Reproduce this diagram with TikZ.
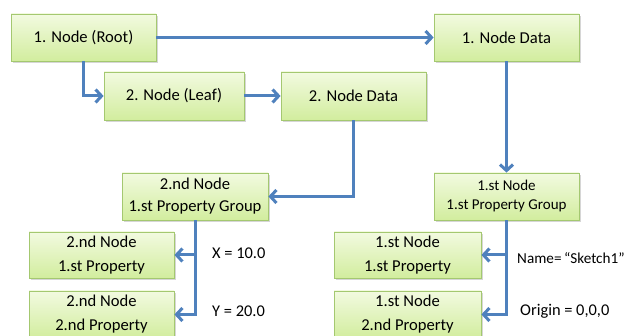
\documentclass[tikz,border=0pt]{standalone}
\usepackage{fontspec}
\setmainfont{Carlito}
\usetikzlibrary{arrows.meta,shadows}
\definecolor{boxtop}{RGB}{242,250,224}
\definecolor{boxbot}{RGB}{210,237,158}
\definecolor{boxline}{RGB}{164,200,112}
\definecolor{linkblue}{RGB}{79,129,189}
\tikzset{
  box/.style={draw=boxline, line width=0.8pt, top color=boxtop, bottom color=boxbot,
    minimum width=145pt, minimum height=47pt, inner sep=0pt, align=center,
    font=\fontsize{16.6}{22}\selectfont,
    drop shadow={shadow xshift=1.6pt, shadow yshift=-1.6pt, fill=black!45, opacity=0.35}},
  link/.style={draw=linkblue, line width=3pt, -{Straight Barb[length=6pt,width=13pt]}},
  lbl/.style={anchor=west, inner sep=0pt, font=\fontsize{16.4}{20}\selectfont}
}
\begin{document}
\begin{tikzpicture}[x=1pt, y=-1pt]
  \fill[white] (0,0) rectangle (630,336);
  \useasboundingbox (0,0) rectangle (630,336);
  \clip (0,0) rectangle (630,336);

  % tree of nodes
  \node[box] (root) at (83.5,37.5) {1. Node (Root)};
  \node[box, minimum width=140pt, minimum height=48pt] (leaf) at (174,96) {2. Node (Leaf)};
  \node[box, minimum height=48pt] (data2) at (353.5,96) {2. Node Data};
  \node[box] (data1) at (506.5,37.5) {1. Node Data};

  \node[box, font=\fontsize{15}{19}\selectfont] (grp1) at (506.5,196.5) {1.st Node\\1.st Property Group};
  \node[box, minimum width=146pt] (grp2) at (195,196.5) {2.nd Node\\1.st Property Group};

  \node[box, minimum height=46pt, font=\fontsize{16.6}{24}\selectfont] (p21) at (101.5,255) {2.nd Node\\1.st Property};
  \node[box, font=\fontsize{16.6}{24}\selectfont] (p22) at (101.5,314.5) {2.nd Node\\2.nd Property};
  \node[box, minimum width=147pt, minimum height=46pt, font=\fontsize{16.6}{24}\selectfont] (p11) at (407.5,255) {1.st Node\\1.st Property};
  \node[box, minimum width=147pt, font=\fontsize{16.6}{24}\selectfont] (p12) at (407.5,314.5) {1.st Node\\2.nd Property};

  % property values
  \node[lbl] (xval) at (212,253) {X = 10.0};
  \node[lbl] (yval) at (212,311) {Y = 20.0};
  \node[lbl, font=\fontsize{15.2}{19}\selectfont] (nameval) at (517,258) {Name=\kern-1pt{} “Sketch1”};
  \node[lbl] (originval) at (520,311) {Origin = 0,0,0};

  % connectors
  \draw[link] (root.east) -- (data1.west);
  \draw[link] (root.south) |- (leaf.west);
  \draw[link] (leaf.east) -- (data2.west);
  \draw[link] (data1.south) -- (grp1.north);
  \draw[link] (data2.south) |- (grp2.east);
  \draw[link] (grp2.south) |- (p21.east);
  \draw[link] (grp2.south) |- (p22.east);
  \draw[link] (grp1.south) |- (p11.east);
  \draw[link] (grp1.south) |- (p12.east);
\end{tikzpicture}
\end{document}
